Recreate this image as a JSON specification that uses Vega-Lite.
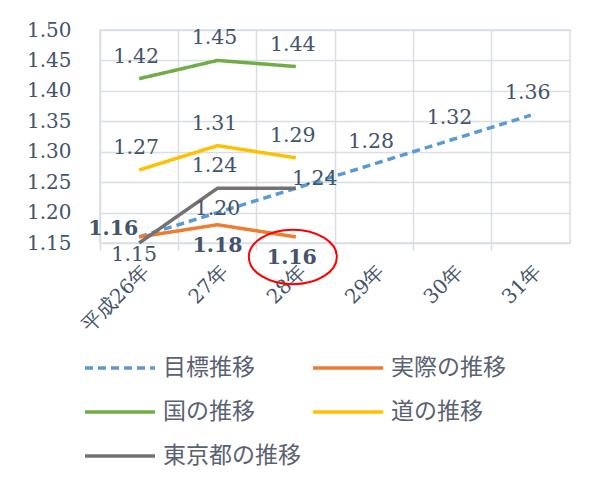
{
  "$schema": "https://vega.github.io/schema/vega-lite/v6.json",
  "width": 470,
  "height": 213,
  "autosize": {"type": "none"},
  "padding": {"left": 100, "top": 30, "right": 22, "bottom": 241},
  "background": "white",
  "config": {
    "view": {"stroke": "#d9dee6", "strokeWidth": 1.5},
    "text": {"font": "DejaVu Serif", "fontSize": 20.5, "color": "#44546a", "baseline": "middle"}
  },
  "data": {
    "values": [
      {"series": "目標推移", "year": "平成26年", "value": 1.16},
      {"series": "目標推移", "year": "27年", "value": 1.20},
      {"series": "目標推移", "year": "28年", "value": 1.24},
      {"series": "目標推移", "year": "29年", "value": 1.28},
      {"series": "目標推移", "year": "30年", "value": 1.32},
      {"series": "目標推移", "year": "31年", "value": 1.36},
      {"series": "実際の推移", "year": "平成26年", "value": 1.16},
      {"series": "実際の推移", "year": "27年", "value": 1.18},
      {"series": "実際の推移", "year": "28年", "value": 1.16},
      {"series": "国の推移", "year": "平成26年", "value": 1.42},
      {"series": "国の推移", "year": "27年", "value": 1.45},
      {"series": "国の推移", "year": "28年", "value": 1.44},
      {"series": "道の推移", "year": "平成26年", "value": 1.27},
      {"series": "道の推移", "year": "27年", "value": 1.31},
      {"series": "道の推移", "year": "28年", "value": 1.29},
      {"series": "東京都の推移", "year": "平成26年", "value": 1.15},
      {"series": "東京都の推移", "year": "27年", "value": 1.24},
      {"series": "東京都の推移", "year": "28年", "value": 1.24}
    ]
  },
  "encoding": {
    "x": {
      "field": "year", "type": "nominal",
      "sort": ["平成26年", "27年", "28年", "29年", "30年", "31年"],
      "scale": {"type": "band", "paddingInner": 0, "paddingOuter": 0},
      "axis": {
        "title": null, "bandPosition": 0, "grid": true, "gridColor": "#d9dee6", "gridWidth": 1.5,
        "ticks": true, "tickSize": 7, "tickColor": "#d9dee6", "tickWidth": 1.5, "domain": false,
        "labelAngle": -45, "labelPadding": 11,
        "labelFont": "DejaVu Serif", "labelFontSize": 20, "labelColor": "#44546a"
      }
    },
    "y": {
      "field": "value", "type": "quantitative",
      "scale": {"domain": [1.15, 1.5], "zero": false, "nice": false},
      "axis": {
        "title": null, "values": [1.15, 1.2, 1.25, 1.3, 1.35, 1.4, 1.45, 1.5], "format": ".2f",
        "grid": true, "gridColor": "#d9dee6", "gridWidth": 1.5, "ticks": false, "domain": false,
        "labelPadding": 29, "labelFont": "DejaVu Serif", "labelFontSize": 20, "labelColor": "#44546a"
      }
    }
  },
  "layer": [
    {
      "mark": {"type": "line", "strokeWidth": 3.5, "strokeCap": "butt"},
      "encoding": {
        "color": {
          "field": "series", "type": "nominal",
          "scale": {
            "domain": ["目標推移", "実際の推移", "国の推移", "道の推移", "東京都の推移"],
            "range": ["#5b9bd5", "#ed7d31", "#70ad47", "#ffc000", "#767171"]
          },
          "legend": {
            "title": null, "orient": "none", "legendX": 8, "legendY": 326, "columns": 2,
            "direction": "horizontal",
            "symbolType": "M-3.5,0H3.5", "symbolSize": 400, "symbolStrokeWidth": 3.5,
            "labelFont": "Noto Sans CJK JP", "labelFontSize": 23, "labelColor": "#5a6272",
            "labelOffset": 31, "rowPadding": 20, "columnPadding": 5
          }
        },
        "strokeDash": {
          "field": "series", "type": "nominal",
          "scale": {
            "domain": ["目標推移", "実際の推移", "国の推移", "道の推移", "東京都の推移"],
            "range": [[8, 5], [1, 0], [1, 0], [1, 0], [1, 0]]
          },
          "legend": null
        },
        "order": {"field": "series", "sort": "descending"}
      }
    },
    {
      "transform": [{"filter": "datum.series === '国の推移' || datum.series === '道の推移' || (datum.series === '東京都の推移' && datum.year === '27年') || (datum.series === '目標推移' && (datum.year === '29年' || datum.year === '30年' || datum.year === '31年'))"}],
      "mark": {"type": "text", "dy": -22, "dx": -3},
      "encoding": {"text": {"field": "value", "type": "quantitative", "format": ".2f"}}
    },
    {
      "transform": [{"filter": "datum.series === '目標推移' && datum.year === '27年'"}],
      "mark": {"type": "text", "dy": -4},
      "encoding": {"text": {"field": "value", "type": "quantitative", "format": ".2f"}}
    },
    {
      "transform": [{"filter": "datum.series === '目標推移' && datum.year === '28年'"}],
      "mark": {"type": "text", "dy": -9, "dx": 19},
      "encoding": {"text": {"field": "value", "type": "quantitative", "format": ".2f"}}
    },
    {
      "transform": [{"filter": "datum.series === '東京都の推移' && datum.year === '平成26年'"}],
      "mark": {"type": "text", "dy": 12, "dx": -5},
      "encoding": {"text": {"field": "value", "type": "quantitative", "format": ".2f"}}
    },
    {
      "transform": [{"filter": "datum.series === '実際の推移' && datum.year === '平成26年'"}],
      "mark": {"type": "text", "dy": -8, "dx": -1, "align": "right", "fontWeight": "bold"},
      "encoding": {"text": {"field": "value", "type": "quantitative", "format": ".2f"}}
    },
    {
      "transform": [{"filter": "datum.series === '実際の推移' && datum.year === '27年'"}],
      "mark": {"type": "text", "dy": 21, "fontWeight": "bold"},
      "encoding": {"text": {"field": "value", "type": "quantitative", "format": ".2f"}}
    },
    {
      "transform": [{"filter": "datum.series === '実際の推移' && datum.year === '28年'"}],
      "mark": {"type": "text", "dy": 21, "dx": -4, "fontWeight": "bold"},
      "encoding": {"text": {"field": "value", "type": "quantitative", "format": ".2f"}}
    },
    {
      "transform": [{"filter": "datum.series === '実際の推移' && datum.year === '28年'"}],
      "mark": {
        "type": "point", "filled": false, "stroke": "#ff0000", "strokeWidth": 2, "opacity": 1,
        "shape": "M-1,0A1,0.62 0 1,0 1,0A1,0.62 0 1,0 -1,0", "size": 7744,
        "xOffset": -3, "yOffset": 20
      },
      "encoding": {}
    }
  ]
}
